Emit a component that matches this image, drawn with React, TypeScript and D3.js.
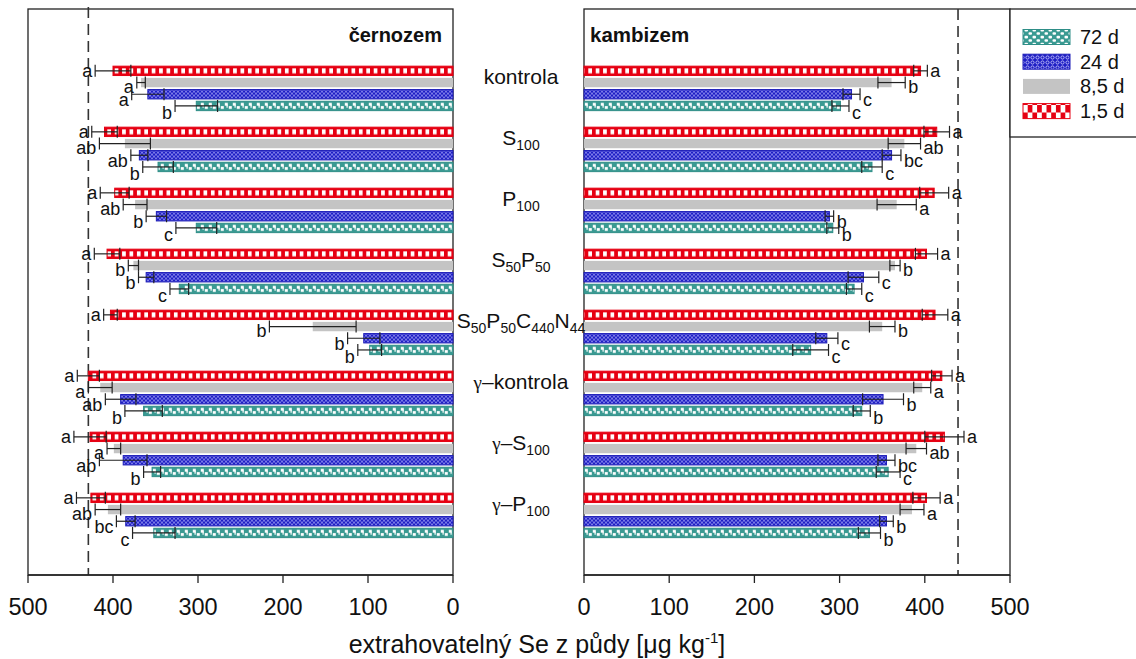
import React from "react";
import * as d3 from "d3";

// Treatments (top to bottom)
const groups = ["kontrola", "S100", "P100", "S50P50", "S50P50C440N44", "γ–kontrola", "γ–S100", "γ–P100"];
// Label pieces: [text, style] where style is "n" normal, "s" subscript, "g" Greek
const groupLabelParts: [string, string][][] = [
  [["kontrola", "n"]],
  [["S", "n"], ["100", "s"]],
  [["P", "n"], ["100", "s"]],
  [["S", "n"], ["50", "s"], ["P", "n"], ["50", "s"]],
  [["S", "n"], ["50", "s"], ["P", "n"], ["50", "s"], ["C", "n"], ["440", "s"], ["N", "n"], ["44", "s"]],
  [["γ", "g"], ["–kontrola", "n"]],
  [["γ", "g"], ["–S", "n"], ["100", "s"]],
  [["γ", "g"], ["–P", "n"], ["100", "s"]],
];

// Incubation times, drawn top to bottom inside each treatment
const series = ["1,5 d", "8,5 d", "24 d", "72 d"];
const legendOrder = ["72 d", "24 d", "8,5 d", "1,5 d"];

// Černozem – means, errors, letters
const cer15 = [400, 410, 398, 407, 403, 429, 427, 426];
const cer85 = [367, 386, 374, 376, 165, 415, 399, 406];
const cer24 = [359, 369, 349, 361, 105, 391, 388, 385];
const cer72 = [302, 347, 302, 322, 98, 364, 354, 352];
const cer15Err = [21, 15, 17, 15, 8, 13, 19, 17];
const cer85Err = [5, 30, 14, 6, 51, 14, 8, 15];
const cer24Err = [19, 10, 12, 9, 19, 18, 28, 11];
const cer72Err = [25, 18, 24, 11, 14, 22, 10, 25];
const cer15Let = ["a", "a", "a", "a", "a", "a", "a", "a"];
const cer85Let = ["a", "ab", "ab", "b", "b", "a", "a", "ab"];
const cer24Let = ["a", "ab", "b", "b", "b", "ab", "ab", "bc"];
const cer72Let = ["b", "b", "c", "c", "b", "b", "b", "c"];

// Kambizem – means, errors, letters
const kam15 = [395, 414, 411, 402, 412, 420, 423, 402];
const kam85 = [361, 376, 367, 365, 350, 397, 390, 385];
const kam24 = [314, 361, 288, 328, 285, 351, 355, 355];
const kam72 = [301, 338, 292, 317, 266, 326, 357, 335];
const kam15Err = [8, 15, 17, 13, 15, 12, 23, 16];
const kam85Err = [16, 19, 23, 6, 15, 10, 12, 14];
const kam24Err = [10, 11, 5, 18, 13, 24, 10, 8];
const kam72Err = [10, 12, 7, 9, 21, 10, 14, 13];
const kam15Let = ["a", "a", "a", "a", "a", "a", "a", "a"];
const kam85Let = ["b", "ab", "a", "b", "b", "a", "ab", "a"];
const kam24Let = ["c", "bc", "b", "c", "c", "b", "bc", "b"];
const kam72Let = ["c", "c", "b", "c", "c", "b", "c", "b"];

// Total Se content reference lines
const cerTotal = 429;
const kamTotal = 439;

const ticks = [0, 100, 200, 300, 400, 500];

const FONT = "'Liberation Sans', Arial, Helvetica, sans-serif";
const GREEK_FONT = "'Liberation Serif', 'DejaVu Serif', serif";
const W = 1136;
const H = 659;
const TOP = 9;
const BOTTOM = 575;

const xL = d3.scaleLinear().domain([0, 500]).range([453, 28]);
const xR = d3.scaleLinear().domain([0, 500]).range([584, 1010]);
const yGroup = d3.scaleBand<string>().domain(groups).range([65, 553]);
const yInner = d3.scaleBand<string>().domain(series).range([0, 46.8]).paddingInner(0.2).paddingOuter(0.1);
const BH = yInner.bandwidth();

const colors: Record<string, { fill: string; stroke: string | null }> = {
  "1,5 d": { fill: "url(#pat15)", stroke: "#e60012" },
  "8,5 d": { fill: "#c4c4c4", stroke: null },
  "24 d": { fill: "url(#pat24)", stroke: "#1c1cb8" },
  "72 d": { fill: "url(#pat72)", stroke: "#2e8e87" },
};
const legendFill: Record<string, string> = {
  "1,5 d": "url(#lpat15)",
  "8,5 d": "#c4c4c4",
  "24 d": "url(#lpat24)",
  "72 d": "url(#lpat72)",
};
const labelDy: Record<string, number> = { "1,5 d": 0, "8,5 d": 4, "24 d": 5, "72 d": 7 };

type Panel = {
  means: number[][];
  errs: number[][];
  lets: string[][];
  x: d3.ScaleLinear<number, number>;
  side: "left" | "right";
};

const panels: Panel[] = [
  {
    means: [cer15, cer85, cer24, cer72],
    errs: [cer15Err, cer85Err, cer24Err, cer72Err],
    lets: [cer15Let, cer85Let, cer24Let, cer72Let],
    x: xL,
    side: "left",
  },
  {
    means: [kam15, kam85, kam24, kam72],
    errs: [kam15Err, kam85Err, kam24Err, kam72Err],
    lets: [kam15Let, kam85Let, kam24Let, kam72Let],
    x: xR,
    side: "right",
  },
];

function Patterns() {
  return (
    <defs>
      <pattern id="pat15" patternUnits="userSpaceOnUse" width={7.4} height={BH}>
        <rect width={7.4} height={BH} fill="#e60012" />
        <rect x={3.7} y={2.2} width={3.7} height={BH - 4.4} fill="#ffffff" />
      </pattern>
      <pattern id="pat24" patternUnits="userSpaceOnUse" width={4} height={4}>
        <rect width={4} height={4} fill="#1e1ec4" />
        <path d="M0,0 L4,4 M4,0 L0,4" stroke="#b8b8ff" strokeWidth={0.6} />
      </pattern>
      <pattern id="pat72" patternUnits="userSpaceOnUse" width={8} height={BH}>
        <rect width={8} height={BH} fill="#3a9a92" />
        <rect x={0.8} y={1.6} width={3} height={2.8} fill="#ffffff" />
        <rect x={4.8} y={4.8} width={3} height={2.8} fill="#ffffff" />
        <rect x={2.5} y={3.4} width={1.2} height={3} fill="#ffffff" />
      </pattern>
      <pattern id="lpat15" patternUnits="userSpaceOnUse" width={9.4} height={15} x={1023} y={0}>
        <rect width={9.4} height={15} fill="#e60012" />
        <rect x={0} y={0} width={4.7} height={7.5} fill="#ffffff" />
        <rect x={4.7} y={7.5} width={4.7} height={7.5} fill="#ffffff" />
      </pattern>
      <pattern id="lpat24" patternUnits="userSpaceOnUse" width={5} height={5}>
        <rect width={5} height={5} fill="#1e1ec4" />
        <circle cx={2.5} cy={2.5} r={1.6} fill="none" stroke="#d0d0ff" strokeWidth={0.8} />
      </pattern>
      <pattern id="lpat72" patternUnits="userSpaceOnUse" width={8} height={7}>
        <rect width={8} height={7} fill="#3a9a92" />
        <rect x={0.5} y={0.8} width={3.5} height={2.6} rx={1} fill="#ffffff" />
        <rect x={4.5} y={4.2} width={3.5} height={2.6} rx={1} fill="#ffffff" />
      </pattern>
    </defs>
  );
}

function PanelBars({ p }: { p: Panel }) {
  const x0 = p.x(0);
  const elems: React.ReactNode[] = [];
  groups.forEach((g, gi) => {
    series.forEach((s, si) => {
      const m = p.means[si][gi];
      const e = p.errs[si][gi];
      const l = p.lets[si][gi];
      const top = (yGroup(g) ?? 0) + (yInner(s) ?? 0);
      const cy = top + BH / 2;
      const xm = p.x(m);
      const bx = Math.min(x0, xm);
      const bw = Math.abs(xm - x0);
      const c = colors[s];
      const xa = p.x(m - e);
      const xb = p.x(m + e);
      const cap = 6;
      const tx = p.side === "left" ? xb - 3 : xb + 3;
      elems.push(
        <g key={`${g}-${s}`}>
          <g transform={`translate(0,${top})`}>
            <rect
              x={bx}
              y={0}
              width={bw}
              height={BH}
              fill={c.fill}
              stroke={c.stroke ?? "none"}
              strokeWidth={1}
            />
          </g>
          <g stroke="#222" strokeWidth={1.2}>
            <line x1={xa} x2={xb} y1={cy} y2={cy} />
            <line x1={xa} x2={xa} y1={cy - cap} y2={cy + cap} />
            <line x1={xb} x2={xb} y1={cy - cap} y2={cy + cap} />
          </g>
          <text
            x={tx}
            y={cy + labelDy[s] + 6.3}
            fontSize={18}
            fontFamily={FONT}
            fill="#111"
            textAnchor={p.side === "left" ? "end" : "start"}
          >
            {l}
          </text>
        </g>
      );
    });
  });
  return <g>{elems}</g>;
}

function Axis({ x }: { x: d3.ScaleLinear<number, number> }) {
  return (
    <g>
      <line x1={x(0)} x2={x(500)} y1={BOTTOM} y2={BOTTOM} stroke="#222" strokeWidth={1.3} />
      {ticks.map((t) => (
        <g key={t}>
          <line x1={x(t)} x2={x(t)} y1={BOTTOM} y2={BOTTOM + 8} stroke="#222" strokeWidth={1.3} />
          <text x={x(t)} y={615} textAnchor="middle" fontSize={23.5} fontFamily={FONT} fill="#111">
            {t}
          </text>
        </g>
      ))}
    </g>
  );
}

export default function App() {
  return (
    <svg
      width={W}
      height={H}
      viewBox={`0 0 ${W} ${H}`}
      style={{ position: "absolute", left: 0, top: 0, background: "#fff" }}
    >
      <Patterns />
      <rect x={0} y={0} width={W} height={H} fill="#fff" />

      {/* panel frames */}
      <rect x={xL(500)} y={TOP} width={xL(0) - xL(500)} height={BOTTOM - TOP} fill="none" stroke="#222" strokeWidth={1.3} />
      <rect x={xR(0)} y={TOP} width={xR(500) - xR(0)} height={BOTTOM - TOP} fill="none" stroke="#222" strokeWidth={1.3} />

      {/* total Se reference lines */}
      <line x1={xL(cerTotal)} x2={xL(cerTotal)} y1={TOP - 2} y2={BOTTOM} stroke="#333" strokeWidth={1.6} strokeDasharray="11,6" />
      <line x1={xR(kamTotal)} x2={xR(kamTotal)} y1={TOP} y2={BOTTOM} stroke="#333" strokeWidth={1.6} strokeDasharray="11,6" />

      {panels.map((p, i) => (
        <PanelBars key={i} p={p} />
      ))}

      <Axis x={xL} />
      <Axis x={xR} />

      {/* soil titles */}
      <text x={442} y={42} textAnchor="end" fontSize={20} fontWeight="bold" fontFamily={FONT} fill="#111">
        černozem
      </text>
      <text x={590} y={42} textAnchor="start" fontSize={20.5} fontWeight="bold" fontFamily={FONT} fill="#111">
        kambizem
      </text>

      {/* treatment labels */}
      {groups.map((g, gi) => {
        const parts = groupLabelParts[gi];
        return (
          <text
            key={g}
            x={521}
            y={(yGroup(g) ?? 0) + (yInner(series[0]) ?? 0) + BH / 2 + 13}
            textAnchor="middle"
            fontSize={21}
            fontFamily={FONT}
            fill="#111"
          >
            {parts.map(([t, kind], k) => {
              const prevSub = k > 0 && parts[k - 1][1] === "s";
              const dy = kind === "s" ? 5 : prevSub ? -5 : 0;
              return (
                <tspan
                  key={k}
                  fontSize={kind === "s" ? 14 : kind === "g" ? 19 : 21}
                  fontFamily={kind === "g" ? GREEK_FONT : FONT}
                  dy={dy}
                >
                  {t}
                </tspan>
              );
            })}
          </text>
        );
      })}

      {/* axis title */}
      <text x={537} y={653} textAnchor="middle" fontSize={25} fontFamily={FONT} fill="#111">
        extrahovatelný Se z půdy [μg kg
        <tspan fontSize={15} dy={-10}>-1</tspan>
        <tspan dy={10}>]</tspan>
      </text>

      {/* legend */}
      <rect x={1010} y={TOP} width={140} height={128} fill="#fff" stroke="#222" strokeWidth={1.3} />
      {legendOrder.map((s, i) => {
        const cy = 37 + i * 24.7;
        const c = colors[s];
        return (
          <g key={s}>
            <rect
              x={1023}
              y={cy - 7.5}
              width={47}
              height={15}
              fill={legendFill[s]}
              stroke={c.stroke ?? "none"}
              strokeWidth={1}
            />
            <text x={1080} y={cy + 7} fontSize={20} fontFamily={FONT} fill="#111">
              {s}
            </text>
          </g>
        );
      })}
    </svg>
  );
}
